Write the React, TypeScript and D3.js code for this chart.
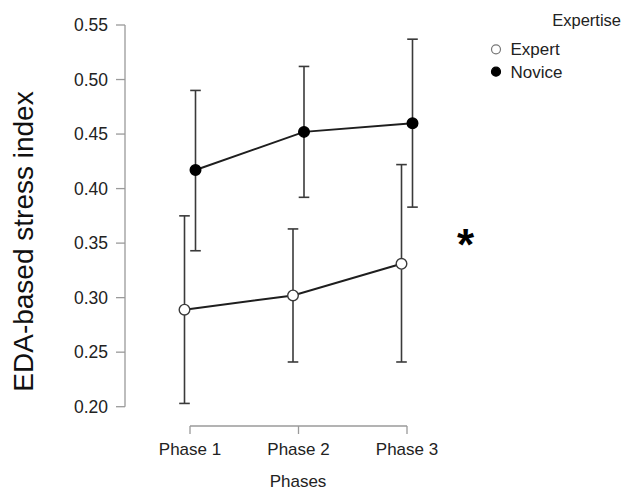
import React from "react";
import * as d3 from "d3";

const phases = ["Phase 1", "Phase 2", "Phase 3"];
const groups = ["Expert", "Novice"];

const expertMean = [0.289, 0.302, 0.331];
const expertLow = [0.203, 0.241, 0.241];
const expertHigh = [0.375, 0.363, 0.422];

const noviceMean = [0.417, 0.452, 0.46];
const noviceLow = [0.343, 0.392, 0.383];
const noviceHigh = [0.49, 0.512, 0.537];

const yTicks = [0.2, 0.25, 0.3, 0.35, 0.4, 0.45, 0.5, 0.55];

const W = 630;
const H = 497;
const FONT = "'Liberation Sans', Arial, Helvetica, sans-serif";

export default function App() {
  const y = d3.scaleLinear().domain([0.2, 0.55]).range([406.7, 25]);
  const x = d3.scalePoint<string>().domain(phases).range([190, 407]);
  const dodge = d3.scalePoint<string>().domain(groups).range([-5.5, 5.5]);

  const series = [
    { name: "Expert", mean: expertMean, low: expertLow, high: expertHigh, fill: "#fff" },
    { name: "Novice", mean: noviceMean, low: noviceLow, high: noviceHigh, fill: "#000" },
  ];

  const line = d3
    .line<[number, number]>()
    .x((d) => d[0])
    .y((d) => d[1]);

  const axisColor = "#9a9a9a";
  const textColor = "#222";
  const capHalf = 5.3;

  return (
    <svg
      width={W}
      height={H}
      style={{ position: "absolute", left: 0, top: 0, background: "#fff" }}
      fontFamily={FONT}
    >
      {/* y axis */}
      <line x1={125} x2={125} y1={y(0.55)} y2={y(0.2)} stroke={axisColor} strokeWidth={1.3} />
      {yTicks.map((t) => (
        <g key={t}>
          <line x1={116} x2={125} y1={y(t)} y2={y(t)} stroke={axisColor} strokeWidth={1.3} />
          <text x={108} y={y(t)} dy="0.35em" textAnchor="end" fontSize={17.5} fill={textColor}>
            {t.toFixed(2)}
          </text>
        </g>
      ))}
      <text
        transform={`translate(33, 241.5) rotate(-90)`}
        textAnchor="middle"
        fontSize={28}
        fill="#111"
      >
        EDA-based stress index
      </text>

      {/* x axis */}
      <line x1={x("Phase 1")} x2={x("Phase 3")} y1={426} y2={426} stroke={axisColor} strokeWidth={1.3} />
      {phases.map((p) => (
        <g key={p}>
          <line x1={x(p)} x2={x(p)} y1={426} y2={434} stroke={axisColor} strokeWidth={1.3} />
          <text x={x(p)} y={455} textAnchor="middle" fontSize={17} fill={textColor}>
            {p}
          </text>
        </g>
      ))}
      <text x={298} y={487} textAnchor="middle" fontSize={17} fill={textColor}>
        Phases
      </text>

      {/* error bars */}
      {series.map((s) =>
        phases.map((p, i) => {
          const cx = (x(p) as number) + (dodge(s.name) as number);
          return (
            <g key={s.name + p} stroke="#3a3a3a" strokeWidth={1.6}>
              <line x1={cx} x2={cx} y1={y(s.high[i])} y2={y(s.low[i])} />
              <line x1={cx - capHalf} x2={cx + capHalf} y1={y(s.high[i])} y2={y(s.high[i])} />
              <line x1={cx - capHalf} x2={cx + capHalf} y1={y(s.low[i])} y2={y(s.low[i])} />
            </g>
          );
        })
      )}

      {/* lines and points */}
      {series.map((s) => {
        const pts: [number, number][] = phases.map((p, i) => [
          (x(p) as number) + (dodge(s.name) as number),
          y(s.mean[i]),
        ]);
        return (
          <g key={s.name}>
            <path d={line(pts) || ""} fill="none" stroke="#1e1e1e" strokeWidth={2} />
            {pts.map((pt, i) => (
              <circle
                key={i}
                cx={pt[0]}
                cy={pt[1]}
                r={5.3}
                fill={s.fill}
                stroke={s.name === "Expert" ? "#3a3a3a" : "#000"}
                strokeWidth={1.4}
              />
            ))}
          </g>
        );
      })}

      {/* significance marker */}
      <text x={465.5} y={260} textAnchor="middle" fontSize={44} fontWeight="bold" fill="#000">
        *
      </text>

      {/* legend */}
      <text x={621} y={26} textAnchor="end" fontSize={16.5} fill={textColor}>
        Expertise
      </text>
      {series.map((s, i) => (
        <g key={s.name}>
          <circle
            cx={496}
            cy={49.3 + i * 22.4}
            r={4.5}
            fill={s.fill}
            stroke={s.name === "Expert" ? "#777" : "#000"}
            strokeWidth={1.2}
          />
          <text x={510.5} y={49.3 + i * 22.4} dy="0.36em" fontSize={17} fill={textColor}>
            {s.name}
          </text>
        </g>
      ))}
    </svg>
  );
}
